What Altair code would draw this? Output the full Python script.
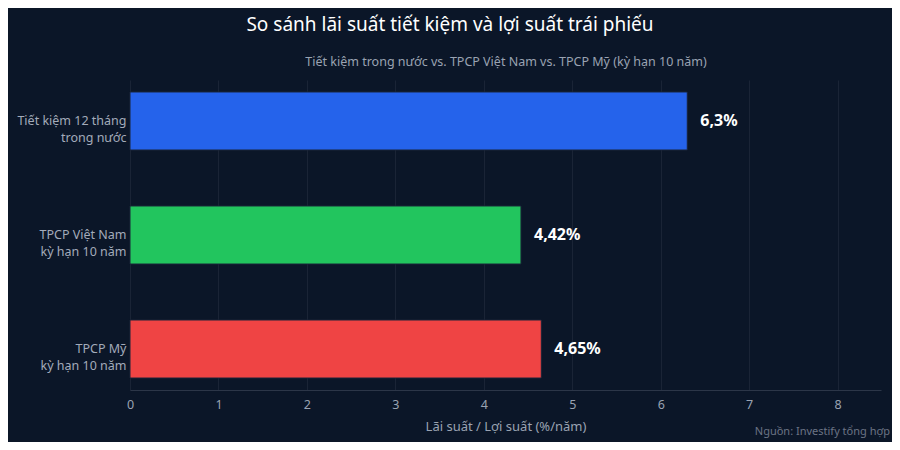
import altair as alt
import pandas as pd

categories = ["Tiết kiệm 12 tháng|trong nước", "TPCP Việt Nam|kỳ hạn 10 năm", "TPCP Mỹ|kỳ hạn 10 năm"]
values = [6.3, 4.42, 4.65]
colors = ["#2563eb", "#22c55e", "#ef4444"]
labels = [f"{v:g}".replace(".", ",") + "%" for v in values]

BG = "#0b1628"
FONT = "Noto Sans"

df = pd.DataFrame({"cat": categories, "val": values, "label": labels, "color": colors})

ysc = alt.Scale(domain=categories, paddingInner=0.491, paddingOuter=0.105)
xsc = alt.Scale(domain=[0, 8.49], nice=False)

base = alt.Chart(df)

bars = base.mark_bar(stroke="#1a2438", strokeWidth=1).encode(
    y=alt.Y("cat:N", scale=ysc, sort=categories,
            axis=alt.Axis(title=None, labelExpr="split(datum.label, '|')", labelColor="#a3abba",
                          labelFontSize=12.5, labelFont=FONT, ticks=False, domain=False,
                          labelPadding=4, grid=False, labelLineHeight=17)),
    x=alt.X("val:Q", scale=xsc,
            axis=alt.Axis(title="Lãi suất / Lợi suất (%/năm)", values=list(range(0, 9)), format="d",
                          labelColor="#9aa3b2", labelFontSize=12.5, labelFont=FONT, labelFlush=False,
                          titleColor="#9aa3b2", titleFontSize=13, titleFont=FONT, titleFontWeight="normal",
                          titlePadding=10, grid=True, gridColor="#1a2436", gridWidth=1,
                          domainColor="#2c3648", ticks=False, labelPadding=8)),
    color=alt.Color("color:N", scale=None),
)

text = base.mark_text(align="left", baseline="middle", dx=13, fontSize=16, fontWeight="bold",
                      color="#ffffff", font=FONT).encode(
    y=alt.Y("cat:N", scale=ysc, sort=categories),
    x=alt.X("val:Q", scale=xsc),
    text="label:N",
)

title = alt.Chart(pd.DataFrame({"t": ["So sánh lãi suất tiết kiệm và lợi suất trái phiếu"]})).mark_text(
    align="center", baseline="middle", fontSize=19, color="#ffffff", font=FONT
).encode(x=alt.value(320), y=alt.value(-55), text="t:N")

subtitle = alt.Chart(pd.DataFrame({"t": ["Tiết kiệm trong nước vs. TPCP Việt Nam vs. TPCP Mỹ (kỳ hạn 10 năm)"]})).mark_text(
    align="center", baseline="middle", fontSize=12.5, color="#9aa3b2", font=FONT
).encode(x=alt.value(376), y=alt.value(-18), text="t:N")

source = alt.Chart(pd.DataFrame({"t": ["Nguồn: Investify tổng hợp"]})).mark_text(
    align="right", baseline="middle", fontSize=11, color="#6b7485", font=FONT
).encode(x=alt.value(760), y=alt.value(352), text="t:N")

chart = alt.layer(bars, text, title, subtitle, source).properties(
    width=751, height=310,
    background=BG,
    padding={"left": 122, "top": 72, "right": 11, "bottom": 52},
    autosize=alt.AutoSizeParams(type="none"),
).configure_view(stroke=None)

chart.save("out.html", embed_options={"renderer": "svg", "actions": False})
